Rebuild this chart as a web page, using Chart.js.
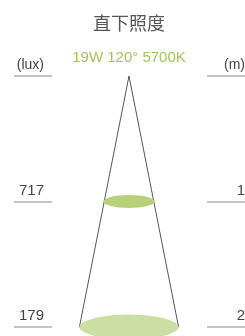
<!DOCTYPE html>
<html>
<head>
<meta charset="utf-8">
<script src="https://cdn.jsdelivr.net/npm/chart.js@4"></script>
<style>
  html, body { margin: 0; padding: 0; background: #fff; }
  #wrap { width: 245px; height: 336px; }
</style>
</head>
<body>
<div id="wrap"><canvas id="chart" width="245" height="336"></canvas></div>
<script>
// data
const title = '直下照度';
const spec = '19W 120° 5700K';
const heights = [1, 2];             // m below the lamp
const lux = [717, 179];             // centre illuminance
const spotDiameters = [0.41, 0.79]; // drawn spot width, m (schematic)
const spotColors = ['#b8d07a', '#cddea2'];

// layout
const pxPerM = 125.5;
const lampX = 129, lampY = 76;
const W = 245, H = 336;

const edge = spotDiameters[spotDiameters.length - 1] / 2;
const deepest = heights[heights.length - 1];

const labels = {
  id: 'labels',
  afterDatasetsDraw(chart) {
    const ctx = chart.ctx;
    const xs = chart.scales.x, ys = chart.scales.y;
    ctx.save();

    // spots
    heights.forEach((h, i) => {
      const cx = xs.getPixelForValue(0);
      const cy = ys.getPixelForValue(h);
      const rx = xs.getPixelForValue(spotDiameters[i] / 2) - cx;
      ctx.fillStyle = spotColors[i];
      ctx.beginPath();
      ctx.ellipse(cx, cy, rx, rx * 0.25, 0, 0, Math.PI * 2);
      ctx.fill();
    });

    // title
    ctx.fillStyle = '#555';
    ctx.textAlign = 'center';
    ctx.textBaseline = 'middle';
    ctx.font = '18px "Noto Sans CJK SC"';
    ctx.fillText(title, 129, 23);
    ctx.fillStyle = '#a2c654';
    ctx.font = '15px "Liberation Sans"';
    ctx.textBaseline = 'alphabetic';
    ctx.fillText(spec, 129, 62);

    // rows
    const rows = [{ v: 0, l: '(lux)', r: '(m)', f: 14 }].concat(
      heights.map((h, i) => ({ v: h, l: String(lux[i]), r: String(h), f: 15 }))
    );
    rows.forEach(row => {
      const y = Math.round(ys.getPixelForValue(row.v));
      ctx.strokeStyle = '#8a8a8a';
      ctx.lineWidth = 1.2;
      ctx.beginPath();
      ctx.moveTo(14, y); ctx.lineTo(52, y);
      ctx.moveTo(207, y); ctx.lineTo(245, y);
      ctx.stroke();
      ctx.fillStyle = '#444';
      ctx.font = row.f + 'px "Liberation Sans"';
      ctx.textAlign = 'right';
      ctx.fillText(row.l, 44, y - 7);
      ctx.fillText(row.r, 245, y - 7);
    });
    ctx.restore();
  }
};

new Chart(document.getElementById('chart'), {
  type: 'scatter',
  data: {
    datasets: [{
      data: [{ x: -edge, y: deepest }, { x: 0, y: 0 }, { x: edge, y: deepest }],
      showLine: true,
      borderColor: '#555',
      borderWidth: 1,
      pointRadius: 0,
      tension: 0
    }]
  },
  options: {
    responsive: false,
    animation: false,
    layout: { padding: 0 },
    plugins: { legend: { display: false }, tooltip: { enabled: false } },
    scales: {
      x: { display: false, min: -lampX / pxPerM, max: (W - lampX) / pxPerM },
      y: { display: false, reverse: true, min: -lampY / pxPerM, max: (H - lampY) / pxPerM }
    }
  },
  plugins: [labels]
});
</script>
</body>
</html>
